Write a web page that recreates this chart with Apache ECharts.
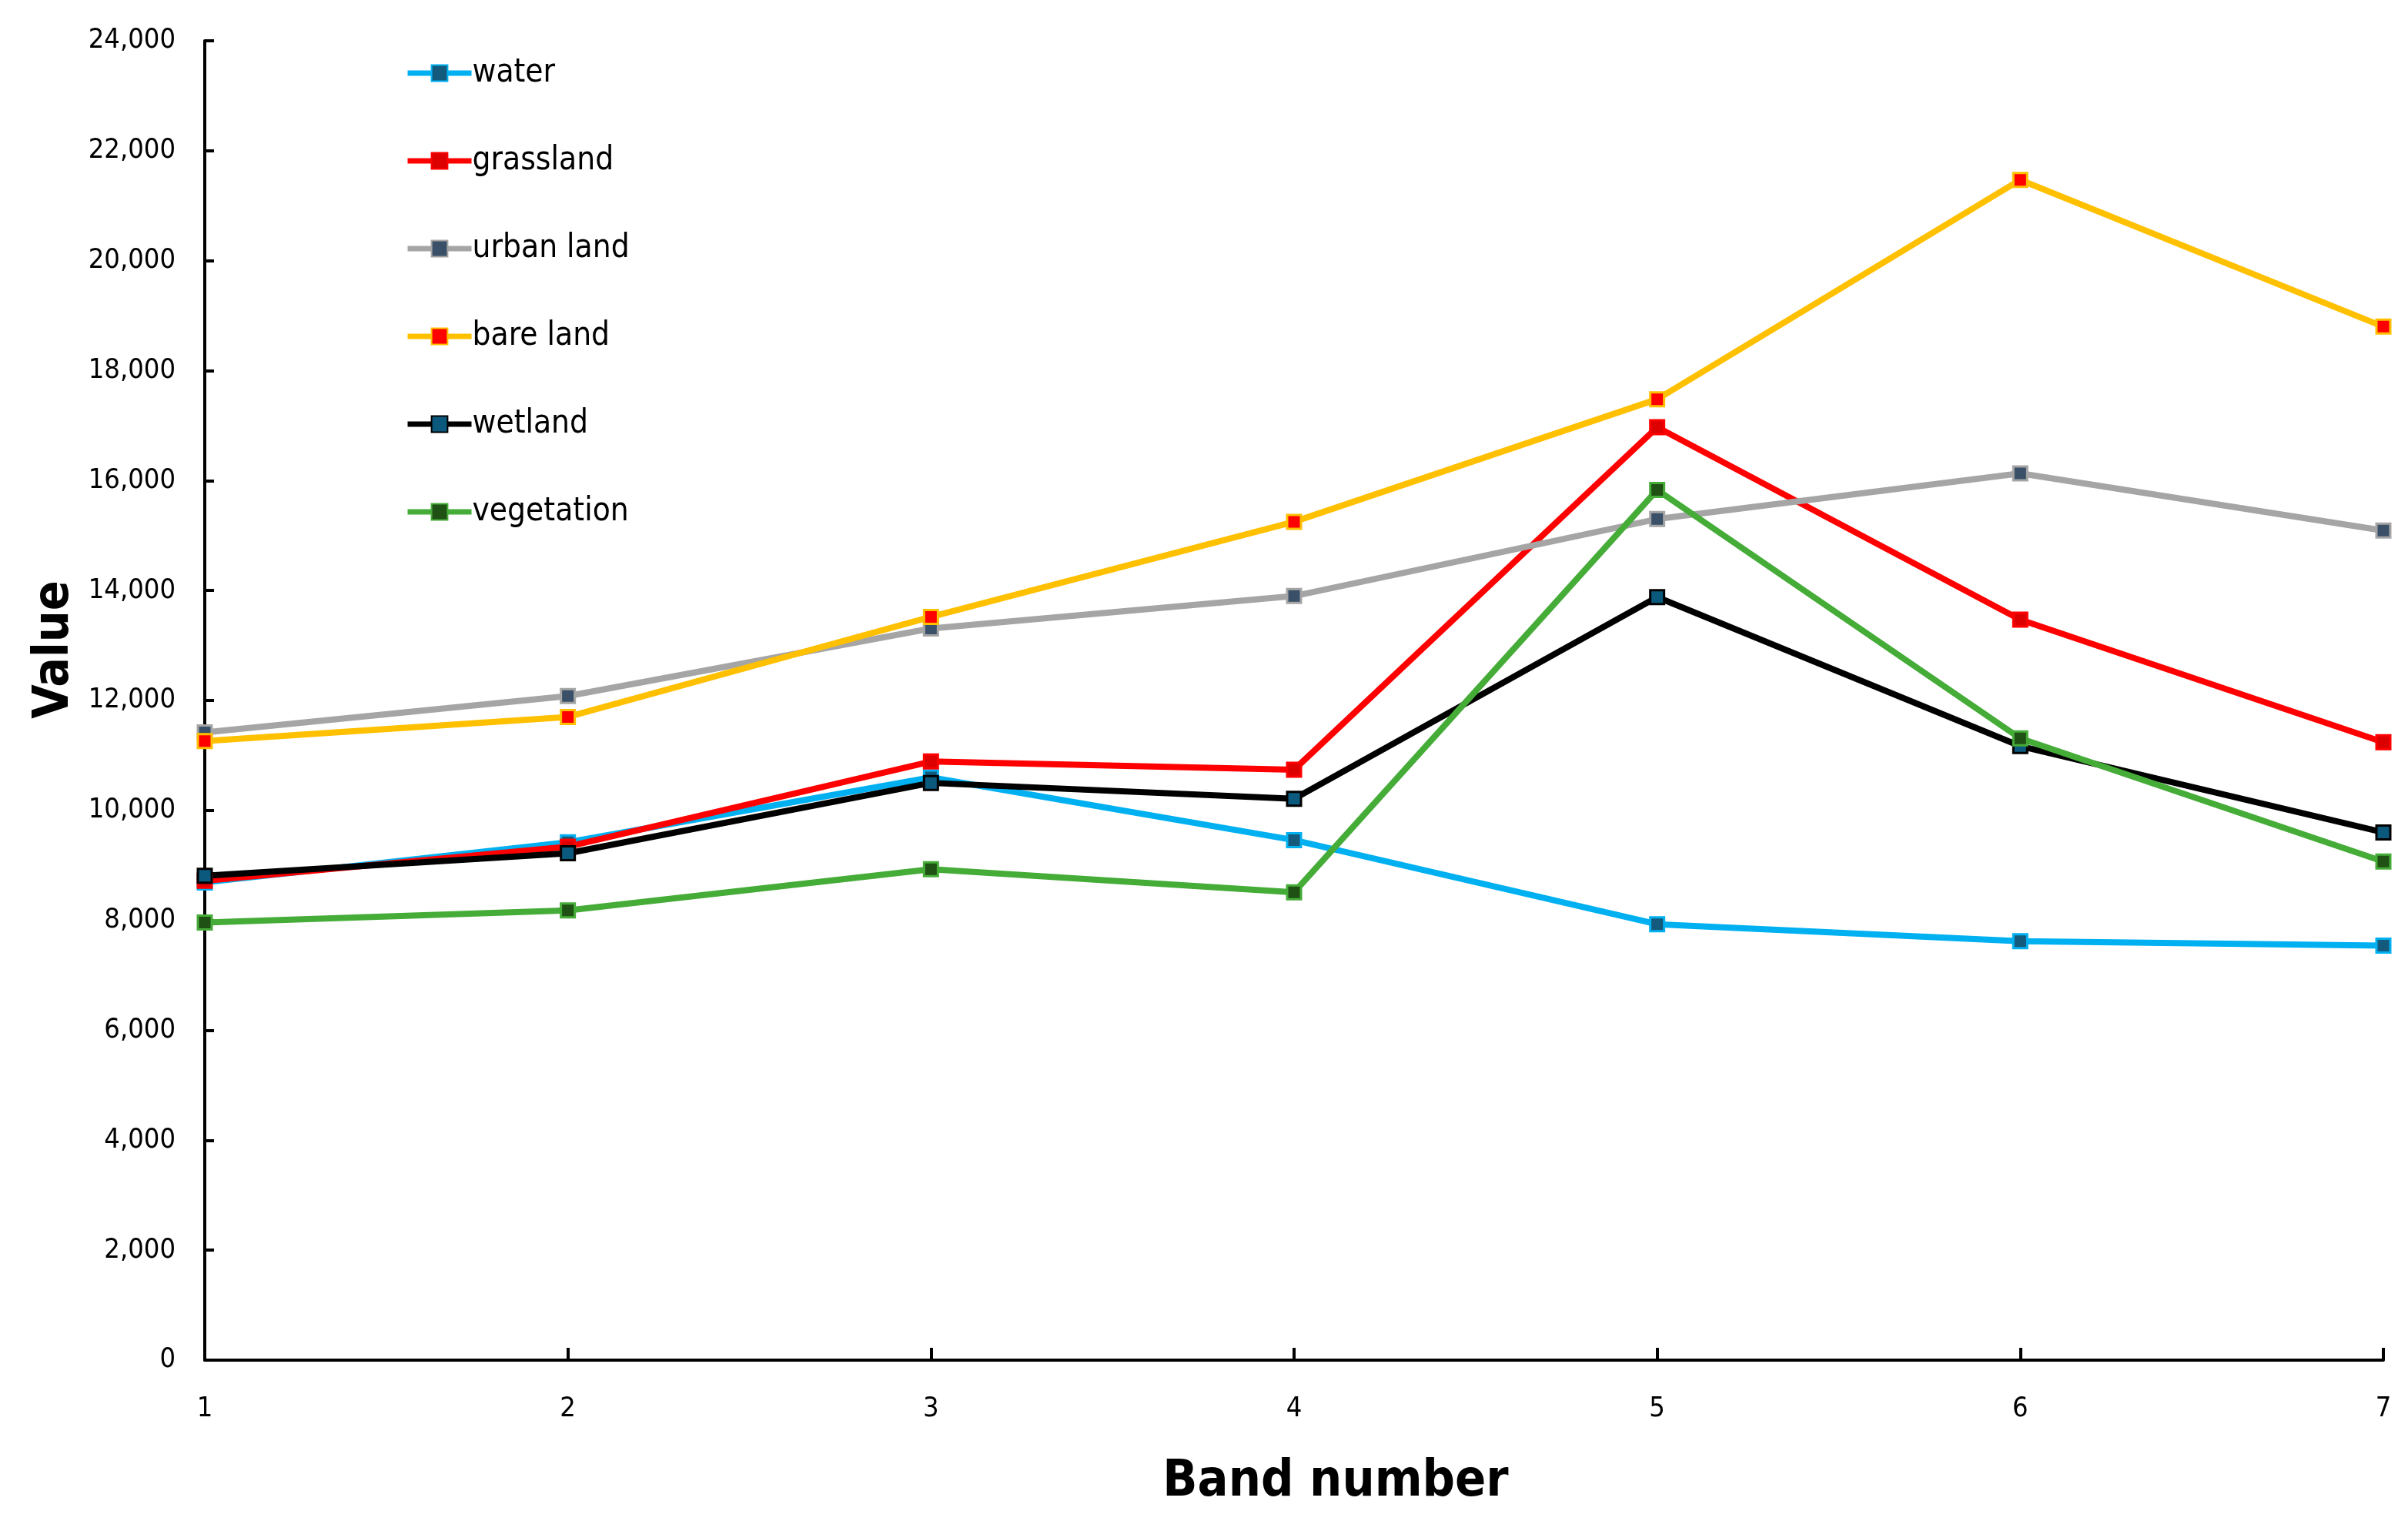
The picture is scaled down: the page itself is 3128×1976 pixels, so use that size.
<!DOCTYPE html>
<html>
<head>
<meta charset="utf-8">
<script src="https://cdn.jsdelivr.net/npm/echarts@6/dist/echarts.min.js"></script>
<style>
html,body{margin:0;padding:0;background:#fff;}
#chart{width:3128px;height:1976px;}
</style>
</head>
<body>
<div id="chart"></div>
<script>
const bands = ['1','2','3','4','5','6','7'];
const water      = [8690, 9420, 10600, 9460, 7930, 7620, 7540];
const grassland  = [8720, 9340, 10890, 10740, 16970, 13470, 11240];
const urbanLand  = [11420, 12080, 13310, 13900, 15300, 16130, 15090];
const bareLand   = [11260, 11700, 13520, 15250, 17480, 21470, 18800];
const wetland    = [8810, 9220, 10500, 10210, 13880, 11170, 9600];
const vegetation = [7960, 8180, 8930, 8510, 15830, 11310, 9070];
const seriesNames = ['water','grassland','urban land','bare land','wetland','vegetation'];

const FONT = "'Liberation Sans Narrow', 'DejaVu Sans Condensed', 'Open Sans', sans-serif";
const styles = [
  {line:'#00B0F0', fill:'#145A7C', border:'#00B0F0'},
  {line:'#FF0000', fill:'#DD0000', border:'#FF0000'},
  {line:'#A5A5A5', fill:'#3A5068', border:'#A5A5A5'},
  {line:'#FFC000', fill:'#FF0000', border:'#FFC000'},
  {line:'#000000', fill:'#0B5A7E', border:'#000000'},
  {line:'#45AC38', fill:'#1F5014', border:'#45AC38'}
];
const allData = [water, grassland, urbanLand, bareLand, wetland, vegetation];

const chart = echarts.init(document.getElementById('chart'));
chart.setOption({
  animation: false,
  backgroundColor: '#ffffff',
  textStyle: {fontFamily: FONT},
  grid: {left: 266, right: 32, top: 53, bottom: 209, containLabel: false},
  legend: {
    orient: 'vertical',
    left: 521,
    top: 69,
    itemWidth: 83,
    itemHeight: 26,
    itemGap: 72,
    lineStyle: {width: 7},
    textStyle: {fontFamily: FONT, fontSize: 42, color: '#000', padding: [0,0,0,-4]},
    data: seriesNames
  },
  xAxis: {
    type: 'category',
    data: bands,
    boundaryGap: false,
    axisLine: {lineStyle: {color: '#000', width: 4}},
    axisTick: {inside: true, length: 16, lineStyle: {color: '#000', width: 4}},
    axisLabel: {fontFamily: FONT, fontSize: 36, color: '#000', margin: 46},
    splitLine: {show: false},
    name: 'Band number',
    nameLocation: 'middle',
    nameGap: 126,
    nameTextStyle: {fontFamily: FONT, fontSize: 66, fontWeight: 'bold', color: '#000', padding: [0,0,0,108]}
  },
  yAxis: {
    type: 'value',
    min: 0, max: 24000, interval: 2000,
    axisLine: {show: true, lineStyle: {color: '#000', width: 4}},
    axisTick: {show: true, inside: true, length: 12, lineStyle: {color: '#000', width: 4}},
    axisLabel: {fontFamily: FONT, fontSize: 36, color: '#000', margin: 38,
      formatter: v => v.toLocaleString('en-US')},
    splitLine: {show: false},
    name: 'Value',
    nameLocation: 'middle',
    nameGap: 160,
    nameRotate: 90,
    nameTextStyle: {fontFamily: FONT, fontSize: 64, fontWeight: 'bold', color: '#000', padding: [0,0,0,132]}
  },
  series: allData.map((d, i) => ({
    name: seriesNames[i],
    type: 'line',
    data: d,
    symbol: 'rect',
    symbolSize: 18,
    showAllSymbol: true,
    lineStyle: {color: styles[i].line, width: 8},
    itemStyle: {color: styles[i].fill, borderColor: styles[i].border, borderWidth: 3},
    emphasis: {disabled: true}
  }))
});
</script>
</body>
</html>
